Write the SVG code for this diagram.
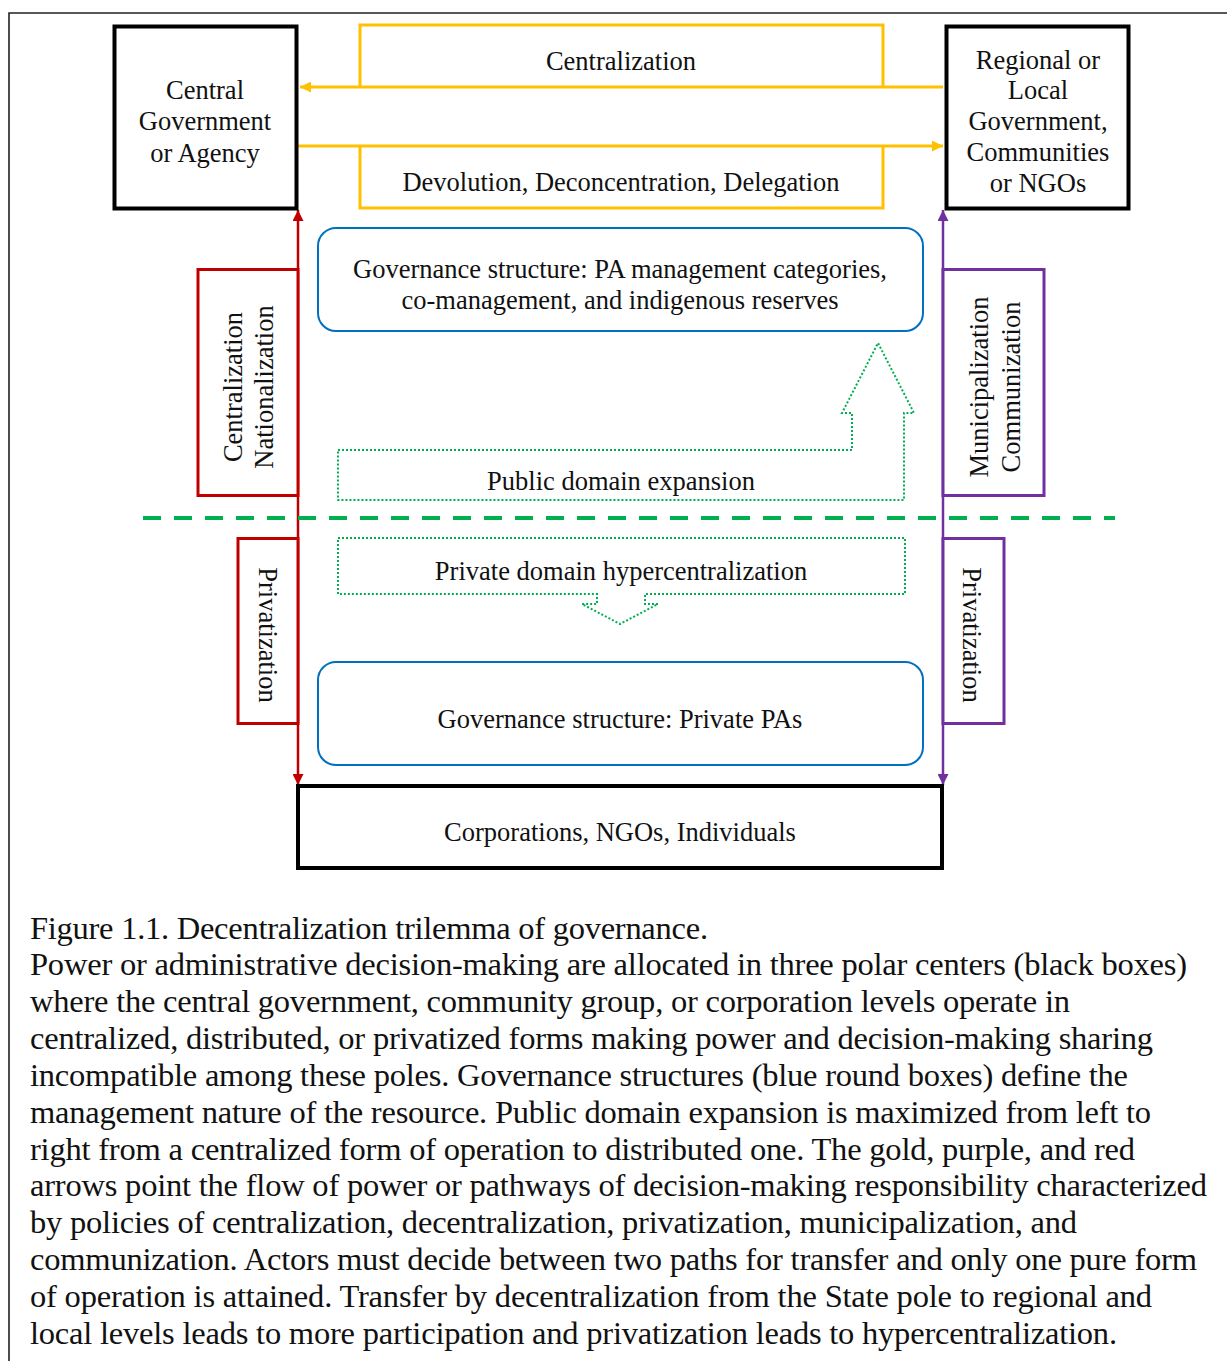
<svg xmlns="http://www.w3.org/2000/svg" width="1227" height="1361" viewBox="0 0 1227 1361">
<style>
text{font-family:"Liberation Serif","Times New Roman",serif;fill:#111;}
.d{font-size:26.5px;text-anchor:middle;}
.cap{font-size:32.5px;}
.blk{fill:#fff;stroke:#000;stroke-width:4;}
.yel{fill:none;stroke:#FFC000;stroke-width:3;}
.red{fill:#fff;stroke:#C00000;stroke-width:3;}
.pur{fill:#fff;stroke:#7030A0;stroke-width:3;}
.blue{fill:#fff;stroke:#0070C0;stroke-width:2;}
.dot{fill:none;stroke:#00B050;stroke-width:2;stroke-dasharray:2 2;}
</style>
<defs>
<marker id="ay" viewBox="0 0 10 10" refX="10" refY="5" markerUnits="userSpaceOnUse" markerWidth="13" markerHeight="11" orient="auto-start-reverse"><path d="M0,0 L10,5 L0,10 z" fill="#FFC000"/></marker>
<marker id="ar" viewBox="0 0 10 10" refX="10" refY="5" markerUnits="userSpaceOnUse" markerWidth="13" markerHeight="11" orient="auto-start-reverse"><path d="M0,0 L10,5 L0,10 z" fill="#C00000"/></marker>
<marker id="ap" viewBox="0 0 10 10" refX="10" refY="5" markerUnits="userSpaceOnUse" markerWidth="13" markerHeight="11" orient="auto-start-reverse"><path d="M0,0 L10,5 L0,10 z" fill="#7030A0"/></marker>
</defs>
<rect width="1227" height="1361" fill="#fff"/>
<path d="M9,1361 V13 H1227" fill="none" stroke="#222" stroke-width="1.6"/>

<g id="connectors">
<path class="yel" d="M360,87 V25 H883 V87"/>
<path class="yel" d="M360,146 V208 H883 V146"/>
<line x1="943" y1="87" x2="300" y2="87" stroke="#FFC000" stroke-width="3" marker-end="url(#ay)"/>
<line x1="298" y1="146" x2="943" y2="146" stroke="#FFC000" stroke-width="3" marker-end="url(#ay)"/>
<line x1="298" y1="210" x2="298" y2="785" stroke="#C00000" stroke-width="2.5" marker-start="url(#ar)" marker-end="url(#ar)"/>
<line x1="943" y1="210" x2="943" y2="785" stroke="#7030A0" stroke-width="2.5" marker-start="url(#ap)" marker-end="url(#ap)"/>
<line x1="143" y1="518" x2="1115" y2="518" stroke="#00B050" stroke-width="4" stroke-dasharray="18 13"/>
</g>

<g id="lbl-centralization"><text class="d" x="621" y="70">Centralization</text></g>
<g id="lbl-devolution"><text class="d" x="621" y="191">Devolution, Deconcentration, Delegation</text></g>

<g id="central-government">
<rect class="blk" x="114.5" y="26.5" width="182" height="182"/>
<text class="d" x="205" y="99">Central</text>
<text class="d" x="205" y="130">Government</text>
<text class="d" x="205" y="162">or Agency</text>
</g>

<g id="regional-government">
<rect class="blk" x="946.5" y="26.5" width="182" height="182"/>
<text class="d" x="1038" y="69">Regional or</text>
<text class="d" x="1038" y="99">Local</text>
<text class="d" x="1038" y="130">Government,</text>
<text class="d" x="1038" y="161">Communities</text>
<text class="d" x="1038" y="192">or NGOs</text>
</g>

<g id="corporations">
<rect class="blk" x="298" y="786" width="644" height="82"/>
<text class="d" x="620" y="841">Corporations, NGOs, Individuals</text>
</g>

<g id="red-centralization">
<rect class="red" x="198" y="269.5" width="100" height="226"/>
<text class="d" transform="translate(233,387) rotate(-90)" y="0" dominant-baseline="central">Centralization</text>
<text class="d" transform="translate(264,387) rotate(-90)" y="0" dominant-baseline="central">Nationalization</text>
</g>

<g id="red-privatization">
<rect class="red" x="238" y="538.5" width="60" height="185"/>
<text class="d" transform="translate(268,635) rotate(90)" y="0" dominant-baseline="central">Privatization</text>
</g>

<g id="purple-municipalization">
<rect class="pur" x="943" y="269.5" width="101" height="226"/>
<text class="d" transform="translate(979,387) rotate(-90)" y="0" dominant-baseline="central">Municipalization</text>
<text class="d" transform="translate(1011,387) rotate(-90)" y="0" dominant-baseline="central">Communization</text>
</g>

<g id="purple-privatization">
<rect class="pur" x="943" y="538.5" width="61" height="185"/>
<text class="d" transform="translate(972,635) rotate(90)" y="0" dominant-baseline="central">Privatization</text>
</g>

<g id="governance-public">
<rect class="blue" x="318" y="228" width="605" height="103" rx="18"/>
<text class="d" x="620" y="278">Governance structure: PA management categories,</text>
<text class="d" x="620" y="309">co-management, and indigenous reserves</text>
</g>

<g id="governance-private">
<rect class="blue" x="318" y="662" width="605" height="103" rx="18"/>
<text class="d" x="620" y="728">Governance structure: Private PAs</text>
</g>

<g id="public-domain-expansion">
<path class="dot" d="M338,450 H852 V413 H842 L878,343 L914,413 H904 V500 H338 Z"/>
<text class="d" x="621" y="490">Public domain expansion</text>
</g>

<g id="private-domain-hypercentralization">
<path class="dot" d="M338,538 H905 V594 H645 V604 H658 L620,624 L582,604 H597 V594 H338 Z"/>
<text class="d" x="621" y="580">Private domain hypercentralization</text>
</g>

<g id="caption">
<text class="cap" x="30" y="939" textLength="678">Figure 1.1. Decentralization trilemma of governance.</text>
<text class="cap" x="30" y="975" textLength="1157">Power or administrative decision-making are allocated in three polar centers (black boxes)</text>
<text class="cap" x="30" y="1012" textLength="1040">where the central government, community group, or corporation levels operate in</text>
<text class="cap" x="30" y="1049" textLength="1123">centralized, distributed, or privatized forms making power and decision-making sharing</text>
<text class="cap" x="30" y="1086" textLength="1098">incompatible among these poles. Governance structures (blue round boxes) define the</text>
<text class="cap" x="30" y="1123" textLength="1121">management nature of the resource. Public domain expansion is maximized from left to</text>
<text class="cap" x="30" y="1160" textLength="1105">right from a centralized form of operation to distributed one. The gold, purple, and red</text>
<text class="cap" x="30" y="1196" textLength="1177">arrows point the flow of power or pathways of decision-making responsibility characterized</text>
<text class="cap" x="30" y="1233" textLength="1047">by policies of centralization, decentralization, privatization, municipalization, and</text>
<text class="cap" x="30" y="1270" textLength="1167">communization. Actors must decide between two paths for transfer and only one pure form</text>
<text class="cap" x="30" y="1307" textLength="1122">of operation is attained. Transfer by decentralization from the State pole to regional and</text>
<text class="cap" x="30" y="1344" textLength="1087">local levels leads to more participation and privatization leads to hypercentralization.</text>
</g>
</svg>
